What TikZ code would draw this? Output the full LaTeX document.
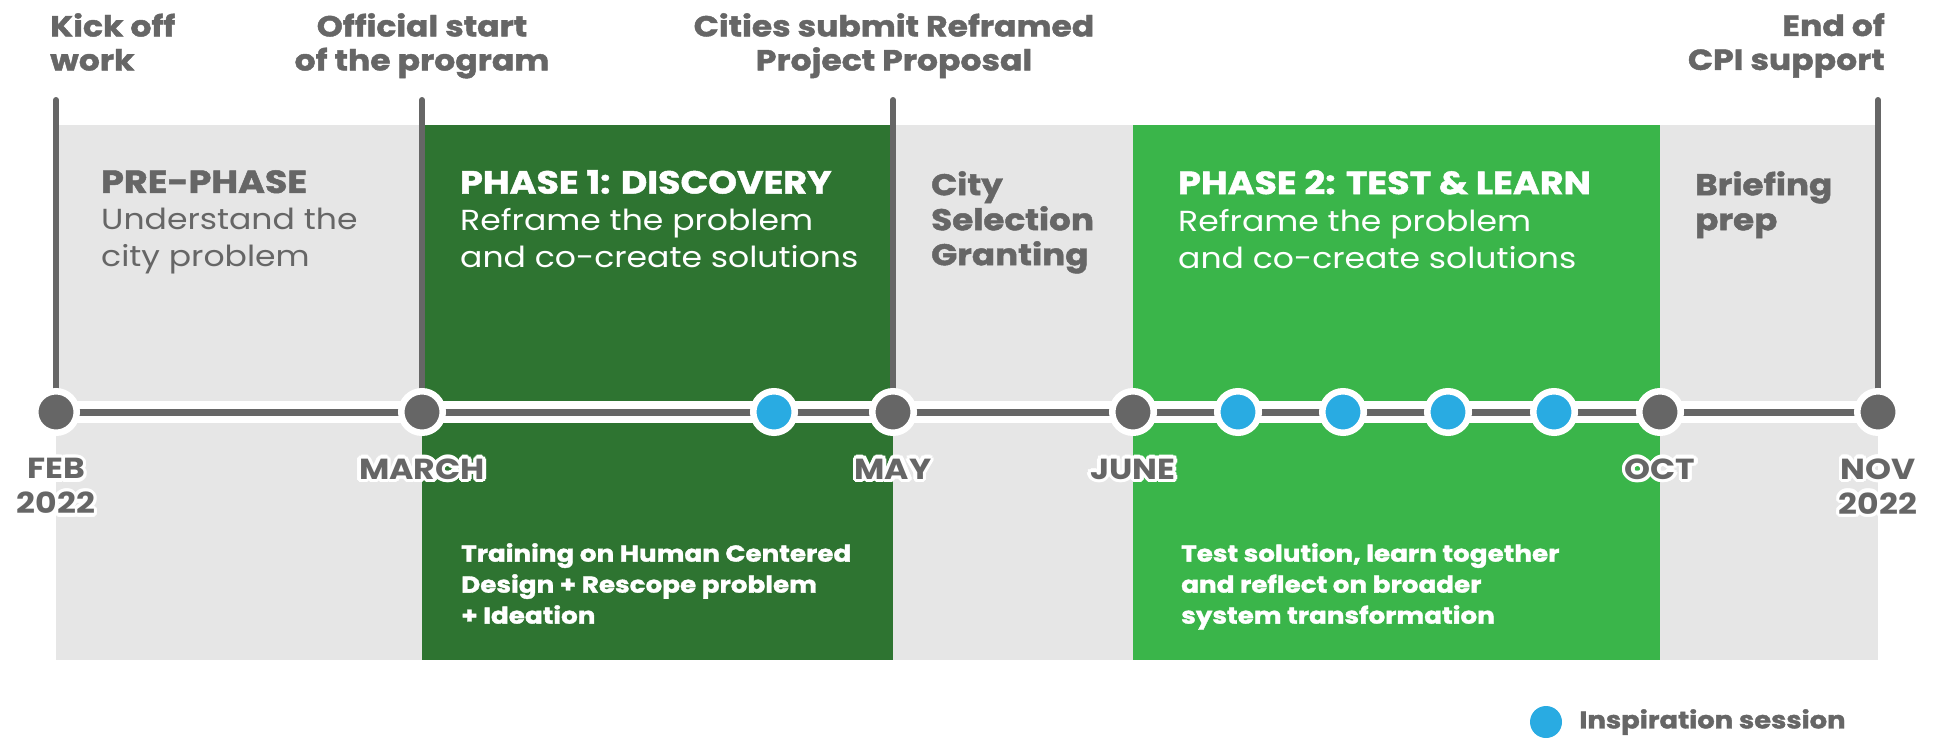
\documentclass[tikz,border=0pt]{standalone}
\usepackage{fontspec}
\setmainfont{Poppins}[FakeStretch=1.14]
\newfontfamily\heavyfont{Poppins}[FakeStretch=1.14, FakeBold=1.5]
\usepackage[copies]{contour}
\usepackage{tikz}
\usetikzlibrary{positioning, backgrounds}

\definecolor{txtgray}{HTML}{666666}
\definecolor{bandgray}{HTML}{E6E6E6}
\definecolor{darkgreen}{HTML}{2E7431}
\definecolor{lightgreen}{HTML}{3AB54A}
\definecolor{dotblue}{HTML}{29ABE2}
\contourlength{3.5pt}

\begin{document}
\begin{tikzpicture}[
    x=1pt, y=-1pt,
    mline/.style={draw=txtgray, line width=6pt, line cap=round},
    milestone/.style={circle, fill=txtgray, draw=white, line width=6.5pt, minimum size=41.5pt, inner sep=0pt},
    session/.style={milestone, fill=dotblue},
    toplabel/.style={font=\heavyfont\bfseries\fontsize{29}{34}\selectfont, text=txtgray, inner sep=0pt},
    phase/.style={font=\fontsize{29}{37}\selectfont, align=left, anchor=north west, inner sep=0pt},
    heading/.style={font=\heavyfont\bfseries\fontsize{32}{37}\selectfont},
    month/.style={font=\bfseries\fontsize{29}{35}\selectfont, text=txtgray, align=center, inner sep=0pt},
    task/.style={font=\heavyfont\bfseries\fontsize{23}{31}\selectfont, text=white, align=left, anchor=north west, inner sep=0pt}
]
\useasboundingbox (0,0) rectangle (1939,740);

% Milestones on the time line
\node[milestone] (feb) at (56,412) {};
\node[milestone] (mar) at (422,412) {};
\node[session] (s1) at (774,412) {};
\node[milestone] (may) at (893,412) {};
\node[milestone] (jun) at (1133,412) {};
\foreach \i/\x in {2/1238, 3/1343, 4/1448, 5/1554}
    \node[session] (s\i) at (\x,412) {};
\node[milestone] (oct) at (1660,412) {};
\node[milestone] (nov) at (1878,412) {};

% Bands and lines
\begin{scope}[on background layer]
\fill[bandgray] (feb |- 0,125) rectangle (nov |- 0,660);
\fill[darkgreen] (mar |- 0,125) rectangle (may |- 0,660);
\fill[lightgreen] (jun |- 0,125) rectangle (oct |- 0,660);
\foreach \m in {feb, mar, may, nov}
    \draw[mline] (\m |- 0,100) -- (\m);
\draw[white, line width=22pt] (feb.center) -- (nov.center);
\draw[txtgray, line width=7pt] (feb.center) -- (nov.center);
\end{scope}

% Top labels
\node[toplabel, anchor=north west, align=left] (kick) at (50,13) {Kick off\\work};
\node[toplabel, anchor=north, align=center] (official) at (422,13) {Official start\\of the program};
\node[toplabel, anchor=north, align=center] (cities) at (894,13) {Cities submit Reframed\\Project Proposal};
\node[toplabel, anchor=north east, align=right] (endcpi) at (1885,13) {End of\\CPI support};

% Phases
\node[phase, text=txtgray] (prephase) at (101,170) {{\heavyfont\bfseries\fontsize{32}{37}\selectfont PRE-PHASE}\\Understand the\\city problem};
\node[phase, text=white] (phase1) at (460,170) {{\heavyfont\bfseries\fontsize{32}{37}\selectfont PHASE 1: DISCOVERY}\\Reframe the problem\\and co-create solutions};
\node[phase, heading, text=txtgray, font=\heavyfont\bfseries\fontsize{30}{35}\selectfont] (citysel) at (931,171) {City\\Selection\\Granting};
\node[phase, text=white] (phase2) at (1178,170) {{\heavyfont\bfseries\fontsize{32}{37}\selectfont PHASE 2: TEST \& LEARN}\\Reframe the problem\\and co-create solutions};
\node[phase, text=txtgray, font=\heavyfont\bfseries\fontsize{30}{35}\selectfont] (briefing) at (1695,171) {Briefing\\prep};

% Months
\node[month] (febl) at (feb |- 0,488) {\contour{white}{FEB}\\\contour{white}{2022}};
\node[month] (marl) at (mar |- 0,471) {\contour{white}{MARCH}};
\node[month] (mayl) at (may |- 0,471) {\contour{white}{MAY}};
\node[month] (junl) at (jun |- 0,471) {\contour{white}{JUNE}};
\node[month] (octl) at (oct |- 0,471) {\contour{white}{OCT}};
\node[month] (novl) at (nov |- 0,488) {\contour{white}{NOV}\\\contour{white}{2022}};

% Activities
\node[task] (training) at (461,543) {Training on Human Centered\\Design + Rescope problem\\+ Ideation};
\node[task] (testsol) at (1181,543) {Test solution, learn together\\and reflect on broader\\system transformation};

% Legend
\node[circle, fill=dotblue, minimum size=32pt, inner sep=0pt] (legdot) at (1546,722) {};
\node[right=17pt of legdot, font=\heavyfont\bfseries\fontsize{24}{28}\selectfont, text=txtgray, inner sep=0pt] (legtext) {Inspiration session};

\end{tikzpicture}
\end{document}
